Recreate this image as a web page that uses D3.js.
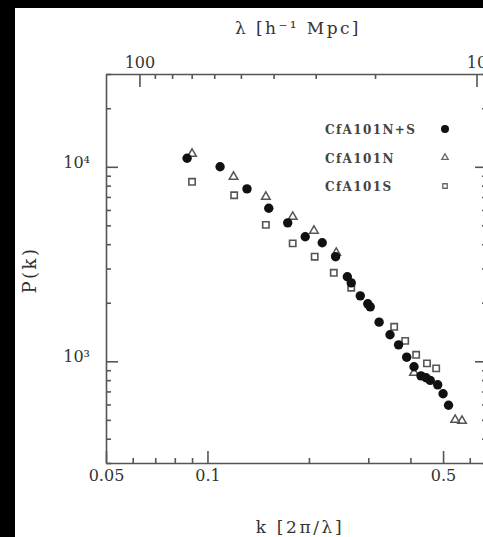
<!DOCTYPE html>
<html>
<head>
<meta charset="utf-8">
<style>
body { margin: 0; background: #fff; overflow: hidden; }
svg { display: block; }
.axis text { font-family: "DejaVu Serif", serif; font-size: 16px; fill: #333; }
.axis path, .axis line { stroke: #555; stroke-width: 1.6; }
.lbl { font-family: "DejaVu Serif", serif; fill: #333; }
.leg { font-family: "DejaVu Serif", serif; font-size: 12px; font-weight: bold; fill: #444; letter-spacing: 1.4px; }
</style>
</head>
<body>
<svg id="chart" width="483" height="537"></svg>
<script src="https://d3js.org/d3.v7.min.js"></script>
<script>
// CfA101 N+S (filled circles)
var kNS = [0.087, 0.109, 0.131, 0.152, 0.173, 0.195, 0.219, 0.240, 0.260, 0.267, 0.284, 0.299, 0.304,
           0.323, 0.348, 0.369, 0.390, 0.410, 0.430, 0.445, 0.458, 0.482, 0.500, 0.519];
var pNS = [11060, 10000, 7700, 6120, 5150, 4370, 4070, 3450, 2720, 2530, 2170, 1975, 1905,
           1590, 1370, 1215, 1050, 937, 842, 823, 798, 757, 681, 594];
// CfA101 N (open triangles)
var kN = [0.090, 0.1195, 0.149, 0.179, 0.207, 0.241, 0.410, 0.543, 0.569];
var pN = [11660, 8880, 7010, 5530, 4690, 3610, 873, 500, 494];
// CfA101 S (open squares)
var kS = [0.090, 0.120, 0.149, 0.179, 0.208, 0.237, 0.267, 0.358, 0.386, 0.416, 0.448, 0.477];
var pS = [8370, 7140, 5030, 4040, 3450, 2850, 2390, 1504, 1274, 1080, 976, 920];

var legendLabels = ["CfA101N+S", "CfA101N", "CfA101S"];

var kMajor = [0.05, 0.1, 0.5];
var kMinor = [0.06, 0.07, 0.08, 0.09, 0.2, 0.3, 0.4, 0.6];
var lamMajor = [100, 10];
var lamMinor = [90, 80, 70, 60, 50, 40, 30, 20];
var pMajor = [1000, 10000];
var pMinor = [300, 400, 500, 600, 700, 800, 900, 2000, 3000, 4000, 5000, 6000, 7000, 8000, 9000, 20000, 30000];

var svg = d3.select("#chart");
svg.append("rect").attr("width", 483).attr("height", 537).attr("fill", "#fff");
// scan borders
svg.append("rect").attr("width", 483).attr("height", 8).attr("fill", "#000");
svg.append("rect").attr("width", 15).attr("height", 537).attr("fill", "#000");

var x = d3.scaleLog().domain([0.05, 0.675]).range([106, 487]);
var y = d3.scaleLog().domain([300, 30000]).range([463, 74]);
var x0 = x.range()[0], x1 = x.range()[1], y0 = y.range()[0], y1 = y.range()[1];

// bottom axis
svg.append("g").attr("class", "axis").attr("transform", "translate(0," + y0 + ")")
  .call(d3.axisBottom(x).tickValues(kMajor).tickFormat(d3.format("")).tickSize(-12).tickSizeOuter(0).tickPadding(7));
svg.append("g").attr("class", "axis").attr("transform", "translate(0," + y0 + ")")
  .call(d3.axisBottom(x).tickValues(kMinor).tickFormat("").tickSize(-5).tickSizeOuter(0))
  .call(g => g.select(".domain").remove());

// top axis in lambda = 2pi/k
var lamFmt = d => String(Math.round(2 * Math.PI / d));
svg.append("g").attr("class", "axis").attr("transform", "translate(0," + y1 + ")")
  .call(d3.axisTop(x).tickValues(lamMajor.map(l => 2 * Math.PI / l)).tickFormat(lamFmt).tickSize(-13).tickSizeOuter(0).tickPadding(6));
svg.append("g").attr("class", "axis").attr("transform", "translate(0," + y1 + ")")
  .call(d3.axisTop(x).tickValues(lamMinor.map(l => 2 * Math.PI / l)).tickFormat("").tickSize(-5).tickSizeOuter(0))
  .call(g => g.select(".domain").remove());

// left / right axes
var supFmt = d => "10" + (d === 1000 ? "\u00b3" : "\u2074");
svg.append("g").attr("class", "axis").attr("transform", "translate(" + x0 + ",0)")
  .call(d3.axisLeft(y).tickValues(pMajor).tickFormat(supFmt).tickSize(-12).tickSizeOuter(0).tickPadding(16))
  .call(g => g.selectAll("text").attr("dy", "0.02em"));
svg.append("g").attr("class", "axis").attr("transform", "translate(" + x0 + ",0)")
  .call(d3.axisLeft(y).tickValues(pMinor).tickFormat("").tickSize(-5).tickSizeOuter(0))
  .call(g => g.select(".domain").remove());
svg.append("g").attr("class", "axis").attr("transform", "translate(" + x1 + ",0)")
  .call(d3.axisRight(y).tickValues(pMajor).tickFormat("").tickSize(-12).tickSizeOuter(0));
svg.append("g").attr("class", "axis").attr("transform", "translate(" + x1 + ",0)")
  .call(d3.axisRight(y).tickValues(pMinor).tickFormat("").tickSize(-5).tickSizeOuter(0))
  .call(g => g.select(".domain").remove());

// axis titles
svg.append("text").attr("class", "lbl").attr("x", 298).attr("y", 34).attr("text-anchor", "middle")
  .attr("font-size", 17).attr("letter-spacing", 2.4).text("\u03bb [h\u207b\u00b9 Mpc]");
svg.append("text").attr("class", "lbl").attr("x", 300).attr("y", 533).attr("text-anchor", "middle")
  .attr("font-size", 17).attr("letter-spacing", 2.6).text("k [2\u03c0/\u03bb]");
svg.append("text").attr("class", "lbl").attr("transform", "translate(36,270) rotate(-90)").attr("text-anchor", "middle")
  .attr("font-size", 18).attr("letter-spacing", 2.5).text("P(k)");

// data
var sq = d3.symbol().type(d3.symbolSquare).size(40);
var tri = d3.symbol().type(d3.symbolTriangle).size(32);

svg.append("g").selectAll("path").data(kS.map((k, i) => [k, pS[i]])).join("path")
  .attr("d", sq).attr("transform", d => "translate(" + x(d[0]) + "," + y(d[1]) + ")")
  .attr("fill", "none").attr("stroke", "#555").attr("stroke-width", 1.6);
svg.append("g").selectAll("path").data(kN.map((k, i) => [k, pN[i]])).join("path")
  .attr("d", tri).attr("transform", d => "translate(" + x(d[0]) + "," + y(d[1]) + ")")
  .attr("fill", "none").attr("stroke", "#555").attr("stroke-width", 1.5);
svg.append("g").selectAll("circle").data(kNS.map((k, i) => [k, pNS[i]])).join("circle")
  .attr("cx", d => x(d[0])).attr("cy", d => y(d[1])).attr("r", 4.7).attr("fill", "#111");

// legend
var leg = svg.append("g");
legendLabels.forEach(function (t, i) {
  var ly = 129 + i * 28.5;
  leg.append("text").attr("class", "leg").attr("x", 325).attr("y", ly + 5).text(t);
  if (i === 0) leg.append("circle").attr("cx", 445).attr("cy", ly).attr("r", 4).attr("fill", "#111");
  if (i === 1) leg.append("path").attr("d", d3.symbol().type(d3.symbolTriangle).size(18)())
    .attr("transform", "translate(445," + ly + ")").attr("fill", "none").attr("stroke", "#666").attr("stroke-width", 1.3);
  if (i === 2) leg.append("path").attr("d", d3.symbol().type(d3.symbolSquare).size(20)())
    .attr("transform", "translate(445," + ly + ")").attr("fill", "none").attr("stroke", "#666").attr("stroke-width", 1.3);
});
</script>
</body>
</html>
